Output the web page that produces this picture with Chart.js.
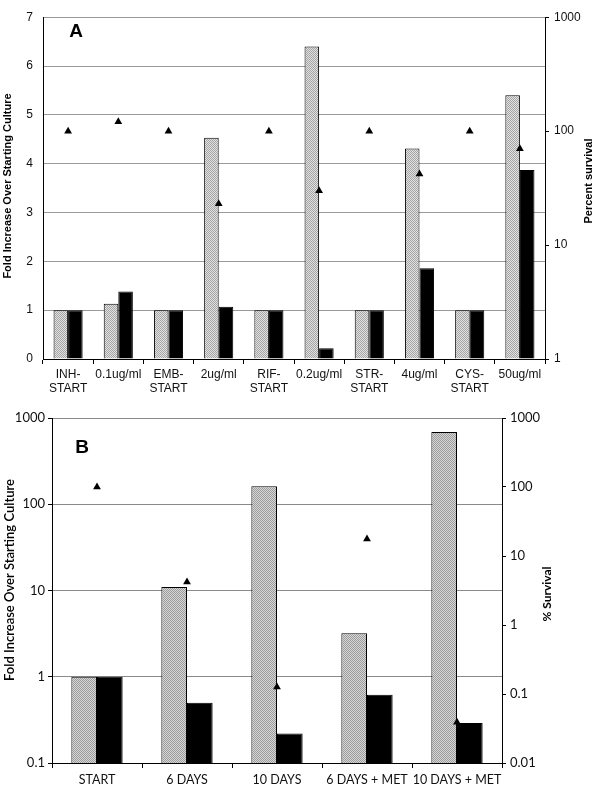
<!DOCTYPE html>
<html lang="en">
<head>
<meta charset="UTF-8">
<title>Fold increase and survival</title>
<script src="https://cdn.jsdelivr.net/npm/chart.js"></script>
<style>
  body { margin: 0; background: #fff; }
  #wrapA { position: absolute; left: 0; top: 0; width: 598px; height: 400px; }
  #wrapB { position: absolute; left: 0; top: 400px; width: 598px; height: 388px; }
</style>
</head>
<body>
<div id="wrapA"><canvas id="chartA" width="598" height="400"></canvas></div>
<div id="wrapB"><canvas id="chartB" width="598" height="388"></canvas></div>
<script>
// panel A
const catsA = [['INH-', 'START'], '0.1ug/ml', ['EMB-', 'START'], '2ug/ml', ['RIF-', 'START'],
               '0.2ug/ml', ['STR-', 'START'], '4ug/ml', ['CYS-', 'START'], '50ug/ml'];
const foldGrayA  = [1, 1.13, 1, 4.53, 1, 6.4, 1, 4.31, 1, 5.4];
const foldBlackA = [1, 1.38, 1, 1.07, 1, 0.22, 1, 1.86, 1, 3.87];
const survivalA  = [100, 121, 100, 23, 100, 30, 100, 42, 100, 70];
const ticksA_right = [1, 10, 100, 1000];

// panel B
const catsB = ['START', '6 DAYS', '10 DAYS', '6 DAYS + MET', '10 DAYS + MET'];
const foldGrayB  = [1, 11, 162, 3.2, 690];
const foldBlackB = [1, 0.5, 0.22, 0.62, 0.29];
const survivalB  = [100, 4.2, 0.126, 17.6, 0.039];
const ticksB_left  = [0.1, 1, 10, 100, 1000];
const ticksB_right = [0.01, 0.1, 1, 10, 100, 1000];

function stipple(dark, light) {
    const c = document.createElement('canvas');
    c.width = 4; c.height = 4;
    const g = c.getContext('2d');
    g.fillStyle = light; g.fillRect(0, 0, 4, 4);
    g.fillStyle = dark;
    [[0, 0], [2, 0], [1, 1], [3, 1], [0, 2], [2, 2], [1, 3], [3, 3]].forEach(p => g.fillRect(p[0], p[1], 1, 1));
    return g.createPattern(c, 'repeat');
}

const textPlugin = {
    id: 'texts',
    afterDraw(chart, args, opts) {
        const ctx = chart.ctx;
        opts.items.forEach(t => {
            ctx.save();
            ctx.translate(t.x, t.y);
            if (t.rot) ctx.rotate(t.rot);
            ctx.font = t.font;
            ctx.fillStyle = '#000';
            ctx.textAlign = 'center';
            ctx.textBaseline = 'middle';
            ctx.fillText(t.text, 0, 0);
            ctx.restore();
        });
    }
};

const setW = w => s => { s.width = w; };
const setH = h => s => { s.height = h; };
const fixTicks = arr => s => { s.ticks = arr.map(v => ({ value: v })); };

// ---- A ----
const fontA = { family: 'Liberation Sans, Arial, sans-serif', size: 12 };
new Chart(document.getElementById('chartA'), {
    type: 'bar',
    data: {
        labels: catsA,
        datasets: [
            { type: 'line', data: survivalA, yAxisID: 'y2', showLine: false,
              pointStyle: 'triangle', pointRadius: 4.5, backgroundColor: '#000', borderColor: '#000', borderWidth: 0 },
            { data: foldGrayA, yAxisID: 'y', backgroundColor: stipple('#a4a4a4', '#e2e2e2'),
              borderColor: '#000', borderWidth: 1 },
            { data: foldBlackA, yAxisID: 'y', backgroundColor: '#000', borderColor: '#000', borderWidth: 1 }
        ]
    },
    options: {
        responsive: false,
        animation: false,
        devicePixelRatio: 1,
        layout: { padding: { top: 5, left: 0, right: 0, bottom: 0 } },
        datasets: { bar: { categoryPercentage: 0.58, barPercentage: 1 } },
        plugins: {
            legend: { display: false },
            tooltip: { enabled: false },
            texts: { items: [
                { text: 'A', x: 76, y: 32, font: 'bold 19px Liberation Sans, Arial, sans-serif' },
                { text: 'Fold Increase Over Starting Culture', x: 8, y: 186, rot: -Math.PI / 2,
                  font: 'bold 11px Liberation Sans, Arial, sans-serif' },
                { text: 'Percent survival', x: 589, y: 181, rot: -Math.PI / 2,
                  font: 'bold 11px Liberation Sans, Arial, sans-serif' }
            ] }
        },
        scales: {
            x: {
                afterFit: setH(41),
                grid: { offset: true, drawOnChartArea: false, color: '#000', tickLength: 5 },
                border: { color: '#000' },
                ticks: { color: '#111', font: { ...fontA, lineHeight: 1.15 }, padding: 4, maxRotation: 0, autoSkip: false }
            },
            y: {
                position: 'left', min: 0, max: 7,
                afterFit: setW(43),
                grid: { color: '#9a9a9a', drawTicks: false },
                border: { color: '#000' },
                ticks: { stepSize: 1, color: '#111', font: fontA, padding: 10 }
            },
            y2: {
                type: 'logarithmic', position: 'right', min: 1, max: 1000,
                afterFit: setW(53),
                afterBuildTicks: fixTicks(ticksA_right),
                grid: { drawOnChartArea: false, color: '#000', tickLength: 4 },
                border: { color: '#000' },
                ticks: { color: '#111', font: fontA, padding: 5, callback: v => String(v) }
            }
        }
    },
    plugins: [textPlugin]
});

// ---- B ----
const fontB = { family: 'Lato, Open Sans, sans-serif', size: 13 };
const fontBx = { family: 'Lato, Open Sans, sans-serif', size: 12.5 };
new Chart(document.getElementById('chartB'), {
    type: 'bar',
    data: {
        labels: catsB,
        datasets: [
            { type: 'line', data: survivalB, yAxisID: 'y2', showLine: false,
              pointStyle: 'triangle', pointRadius: 4.5, backgroundColor: '#000', borderColor: '#000', borderWidth: 0 },
            { data: foldGrayB, yAxisID: 'y', backgroundColor: stipple('#9c9c9c', '#d6d6d6'),
              borderColor: '#000', borderWidth: 1 },
            { data: foldBlackB, yAxisID: 'y', backgroundColor: '#000', borderColor: '#000', borderWidth: 1 }
        ]
    },
    options: {
        responsive: false,
        animation: false,
        devicePixelRatio: 1,
        layout: { padding: { top: 18, left: 0, right: 0, bottom: 0 } },
        datasets: { bar: { categoryPercentage: 0.57, barPercentage: 1 } },
        plugins: {
            legend: { display: false },
            tooltip: { enabled: false },
            texts: { items: [
                { text: 'B', x: 82, y: 48, font: 'bold 19px Liberation Sans, Arial, sans-serif' },
                { text: 'Fold Increase Over Starting Culture', x: 10, y: 180, rot: -Math.PI / 2,
                  font: '600 13px Lato, Open Sans, sans-serif' },
                { text: '% Survival', x: 547, y: 194, rot: -Math.PI / 2,
                  font: 'bold 12px Lato, Open Sans, sans-serif' }
            ] }
        },
        scales: {
            x: {
                afterFit: setH(25),
                grid: { offset: true, drawOnChartArea: false, color: '#000', tickLength: 5 },
                border: { color: '#000' },
                ticks: { color: '#111', font: fontBx, padding: 4, maxRotation: 0, autoSkip: false }
            },
            y: {
                type: 'logarithmic', position: 'left', min: 0.1, max: 1000,
                afterFit: setW(52),
                afterBuildTicks: fixTicks(ticksB_left),
                grid: { color: '#8a8a8a', tickColor: '#000', tickLength: 4 },
                border: { color: '#000' },
                ticks: { color: '#111', font: fontB, padding: 3, callback: v => String(v) }
            },
            y2: {
                type: 'logarithmic', position: 'right', min: 0.01, max: 1000,
                afterFit: setW(96),
                afterBuildTicks: fixTicks(ticksB_right),
                grid: { drawOnChartArea: false, color: '#000', tickLength: 4 },
                border: { color: '#000' },
                ticks: { color: '#111', font: fontB, padding: 4, callback: v => String(v) }
            }
        }
    },
    plugins: [textPlugin]
});
</script>
</body>
</html>
